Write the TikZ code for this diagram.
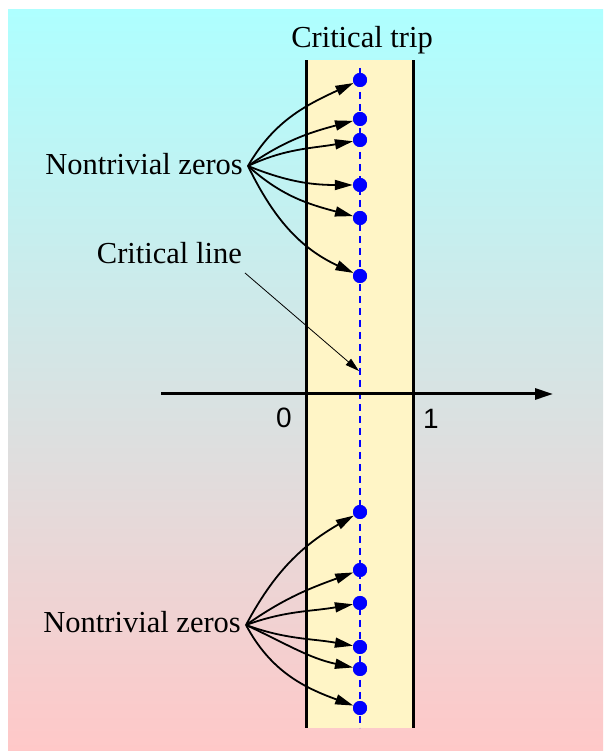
\documentclass[tikz,border=0pt]{standalone}
\usepackage{fontspec}
\setmainfont{Liberation Serif}
\newfontfamily\arialf{Liberation Sans}
\usetikzlibrary{arrows.meta}
\definecolor{topcyan}{RGB}{174,255,255}
\definecolor{botpink}{RGB}{255,200,200}
\definecolor{stripfill}{RGB}{255,245,198}
\begin{document}
\begin{tikzpicture}[x=1pt,y=1pt,
  lbl/.style={inner sep=0pt, font=\fontsize{30.5}{36}\selectfont},
  numlbl/.style={inner sep=0pt, font=\arialf\fontsize{28}{32}\selectfont},
  zero/.style={circle, fill=blue, minimum size=14pt, inner sep=0pt},
  zarrow/.style={line width=1.8pt, -{Triangle[length=18pt,width=10pt]}},
  thinarrow/.style={line width=0.8pt, -{Triangle[length=14pt,width=8pt]}},
  stripline/.style={line width=3pt},
  critline/.style={blue, line width=1.5pt, dash pattern=on 7pt off 5pt}]
\useasboundingbox (0,0) rectangle (603,751);
% background
\shade[top color=topcyan, bottom color=botpink] (8,0) rectangle (603,741);
% strip
\fill[stripfill] (306.5,23) rectangle (413.5,691);
\draw[stripline] (306.5,23) -- (306.5,691);
\draw[stripline] (413.5,23) -- (413.5,691);
% critical line
\coordinate (cltop) at (360,683);
\coordinate (clbot) at (360,23);
\draw[critline] (cltop) -- (clbot);
% axis
\coordinate (axl) at (161,357);
\coordinate (axr) at (553,357);
\draw[line width=3pt, -{Triangle[length=18pt,width=11pt]}] (axl) -- (axr);
\node[numlbl, anchor=base] (n0) at (284,323) {0};
\node[numlbl, anchor=base] (n1) at (431,322) {1};
% title
\node[lbl, anchor=base] (title) at (362,703) {Critical trip};
% labels
\node[lbl, anchor=base east] (ul) at (243,576) {Nontrivial zeros};
\node[lbl, anchor=base east] (ll) at (241,118) {Nontrivial zeros};
\node[lbl, anchor=base east] (cl) at (242,487) {Critical line};
\coordinate (uo) at (248,585);
\coordinate (lo) at (246,126);
% zeros
\node[zero] (u1) at (360,671) {};
\node[zero] (u2) at (360,632) {};
\node[zero] (u3) at (360,611) {};
\node[zero] (u4) at (360,566) {};
\node[zero] (u5) at (360,533) {};
\node[zero] (u6) at (360,475) {};
\node[zero] (l1) at (360,239) {};
\node[zero] (l2) at (360,181) {};
\node[zero] (l3) at (360,148) {};
\node[zero] (l4) at (360,104) {};
\node[zero] (l5) at (360,82) {};
\node[zero] (l6) at (360,43) {};
% arrows upper
\draw[zarrow] (uo) to[out=60,in=205] (u1);
\draw[zarrow] (uo) to[out=35,in=195] (u2);
\draw[zarrow] (uo) to[out=25,in=190] (u3);
\draw[zarrow] (uo) to[out=-22,in=180] (u4);
\draw[zarrow] (uo) to[out=-42,in=165] (u5);
\draw[zarrow] (uo) to[out=-64,in=155] (u6);
% arrows lower
\draw[zarrow] (lo) to[out=62,in=210] (l1);
\draw[zarrow] (lo) to[out=35,in=200] (l2);
\draw[zarrow] (lo) to[out=20,in=190] (l3);
\draw[zarrow] (lo) to[out=-20,in=170] (l4);
\draw[zarrow] (lo) to[out=-25,in=168] (l5);
\draw[zarrow] (lo) to[out=-62,in=160] (l6);
% critical line pointer
\coordinate (cls) at (245,478);
\coordinate (clt) at (359,380);
\draw[thinarrow] (cls) -- (clt);
% redraw dots on top
\foreach \d in {u1,u2,u3,u4,u5,u6,l1,l2,l3,l4,l5,l6}{\fill[blue] (\d) circle (7pt);}
\end{tikzpicture}
\end{document}
